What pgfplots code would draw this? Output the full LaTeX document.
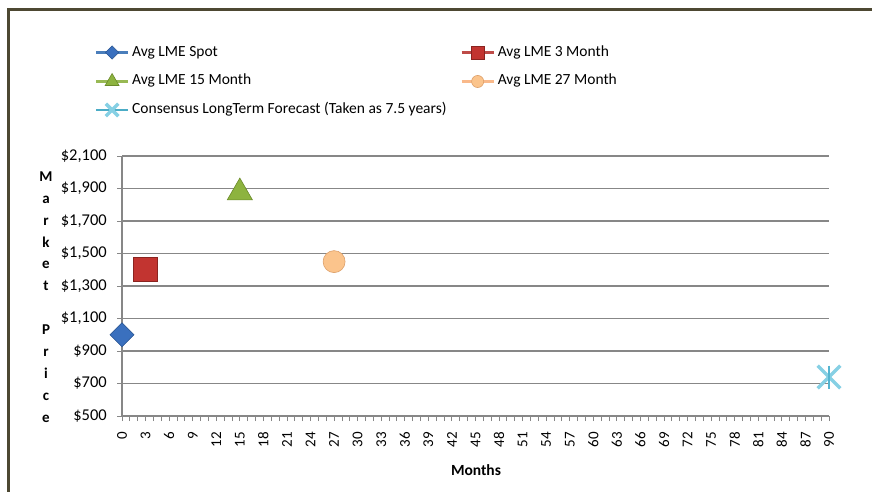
\documentclass[border=0pt]{standalone}
\usepackage{pgfplots}
\pgfplotsset{compat=1.18}
\usepackage{fontspec}
\setmainfont{Carlito}

\definecolor{framecol}{HTML}{4D4832}
\definecolor{gridcol}{HTML}{878787}
\definecolor{spotline}{HTML}{4A7EBB}
\definecolor{spotfill}{HTML}{3A70BE}
\definecolor{spotedge}{HTML}{2A5590}
\definecolor{redline}{HTML}{BE4B48}
\definecolor{redfill}{HTML}{C23430}
\definecolor{rededge}{HTML}{8A2420}
\definecolor{greenline}{HTML}{98B954}
\definecolor{greenfill}{HTML}{8DB33F}
\definecolor{greenedge}{HTML}{6A8A2A}
\definecolor{orangeline}{HTML}{F9B98A}
\definecolor{orangefill}{HTML}{FBC48C}
\definecolor{orangeedge}{HTML}{DDA06A}
\definecolor{cyanline}{HTML}{4BACC6}
\definecolor{cyanmark}{HTML}{86D0E4}
\definecolor{cyandark}{HTML}{55B4D0}

\begin{document}
\begin{tikzpicture}
\useasboundingbox (0pt,0pt) rectangle (872pt,-492pt);
% chart area frame (top and left edges)
\draw[framecol, line width=2.5pt] (8.5pt,-492pt) -- (8.5pt,-9.5pt) -- (872pt,-9.5pt);

% vertical axis title, one letter per line
\node[align=center, inner sep=0pt, font=\fontsize{15}{21.9}\selectfont\bfseries]
  at (46pt,-297pt) {M\\a\\r\\k\\e\\t\\[21.9pt]P\\r\\i\\c\\e};

\begin{axis}[
  at={(122pt,-416pt)}, anchor=south west,
  scale only axis, width=707pt, height=260pt,
  xmin=0, xmax=90, ymin=500, ymax=2100,
  axis x line*=bottom, axis y line*=left,
  axis line style={gridcol, line width=1.1pt, -},
  ymajorgrids, grid style={gridcol, line width=1.1pt},
  ytick={500,700,...,2100},
  yticklabels={\$500,\$700,\$900,{\$1,100},{\$1,300},{\$1,500},{\$1,700},{\$1,900},{\$2,100}},
  xtick={0,3,...,90},
  minor x tick num=2,
  tick align=outside,
  major tick length=5pt, minor tick length=5pt,
  tick style={gridcol, line width=0.9pt},
  /pgf/number format/assume math mode=true,
  xticklabel style={rotate=90, anchor=east, inner xsep=11pt, inner ysep=2pt,
    font=\fontsize{15}{17}\selectfont},
  yticklabel style={inner sep=2pt, xshift=-8pt, font=\fontsize{16.5}{18}\selectfont},
  xlabel={\textbf{Months}},
  xlabel style={at={(axis description cs:0.5007,-0.21)}, anchor=center, font=\fontsize{15.5}{17}\selectfont},
  clip=false,
  legend columns=2,
  legend cell align=left,
  legend image code/.code={%
    \draw[mark repeat=2, mark phase=2, line width=2.2pt,
          /tikz/every mark/.append style={scale=0.55}]
      plot coordinates {(0pt,0pt) (16pt,0pt) (32pt,0pt)};},
  legend style={
    at={(-0.0382,1.4269)}, anchor=north west,
    draw=none, fill=none, inner sep=0pt, outer sep=0pt,
    font=\fontsize{15.5}{17}\selectfont,
    nodes={inner sep=0pt, text height=11pt, text depth=4pt},
    row sep=13.5pt, column sep=3pt,
    /tikz/every even column/.append style={column sep=14pt},
  },
]
% average LME spot
\addplot[spotline, line width=2.2pt, mark=square*,
  mark options={rotate=45, fill=spotfill, draw=spotedge, line width=0.6pt, mark size=8.5pt}]
  coordinates {(0,1000)};
\addlegendentry{Avg LME Spot}
% average LME 3 month
\addplot[redline, line width=2.2pt, mark=square*,
  mark options={fill=redfill, draw=rededge, line width=0.6pt, mark size=12pt}]
  coordinates {(3,1400)};
\addlegendentry{Avg LME 3 Month}
% average LME 15 month
\addplot[greenline, line width=2.2pt, mark=triangle*,
  mark options={fill=greenfill, draw=greenedge, line width=0.6pt, mark size=14.5pt}]
  coordinates {(15,1875)};
\addlegendentry{Avg LME 15 Month}
% average LME 27 month
\addplot[orangeline, line width=2.2pt, mark=*,
  mark options={fill=orangefill, draw=orangeedge, line width=0.6pt, mark size=11pt}]
  coordinates {(27,1450)};
\addlegendentry{Avg LME 27 Month}
% consensus long-term forecast at 90 months: a cross with a vertical bar
\addplot[cyanline, line width=2.2pt, mark=x,
  mark options={draw=cyanmark, line width=3.4pt, mark size=16pt}]
  coordinates {(90,740)};
\addlegendentry{Consensus  LongTerm Forecast (Taken as 7.5 years)}
\addplot[forget plot, mark=|,
  mark options={draw=cyandark, line width=2.2pt, mark size=11.5pt}]
  coordinates {(90,740)};
\end{axis}
\end{tikzpicture}
\end{document}
